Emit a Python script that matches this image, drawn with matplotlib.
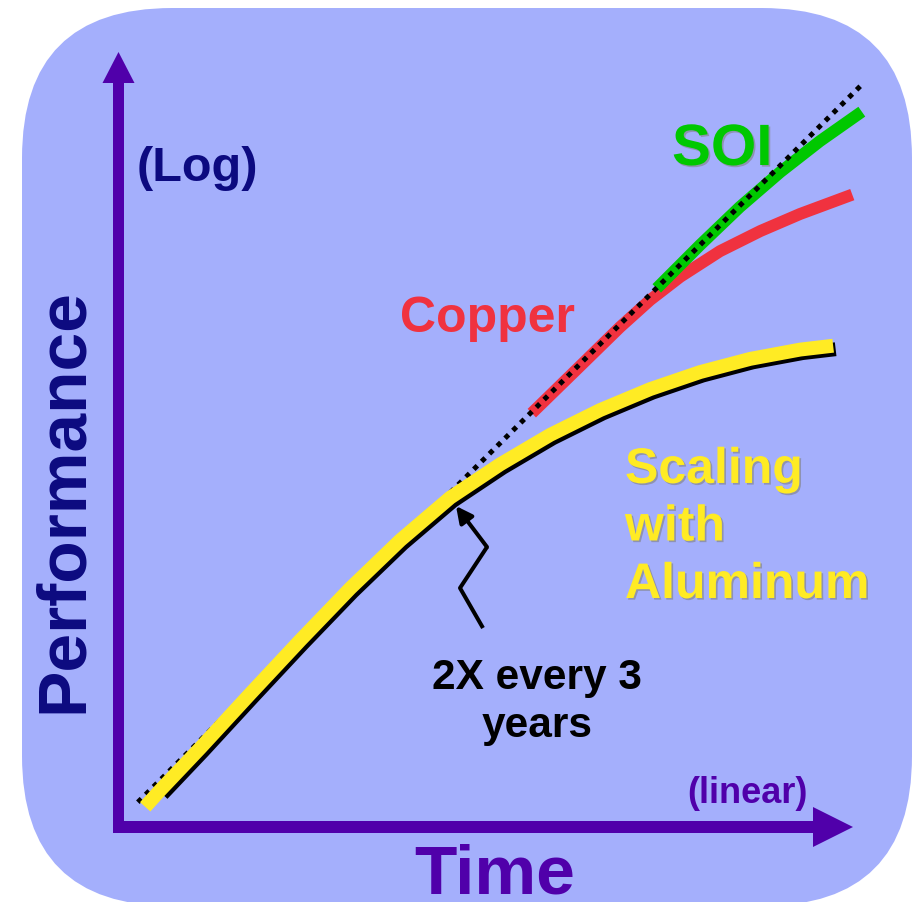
import matplotlib
matplotlib.use('Agg')
import matplotlib.pyplot as plt
import matplotlib.patheffects as pe
import matplotlib.transforms as mtransforms
from matplotlib.patches import FancyBboxPatch, FancyArrow

plt.rcParams['font.family'] = ['Liberation Sans', 'DejaVu Sans']
plt.rcParams['font.weight'] = 'bold'

# Time (linear) vs performance (log), both on a 0-100 scale
trend_time = [2.7, 101.0]
trend_perf = [3.2, 95.6]

aluminum_time = [3.7, 5.7, 11.2, 18.0, 24.8, 31.6, 38.4, 45.2, 52.0, 58.8,
                 65.6, 72.4, 79.2, 86.0, 92.8, 97.3]
aluminum_perf = [2.6, 4.7, 10.2, 17.2, 24.1, 30.8, 37.0, 42.5, 46.8, 50.6,
                 53.8, 56.5, 58.7, 60.4, 61.6, 62.1]

copper_time = [56.3, 62.9, 68.3, 72.4, 76.5, 81.9, 87.4, 92.8, 99.9]
copper_perf = [53.4, 59.5, 64.5, 68.0, 71.0, 74.3, 76.9, 79.1, 81.6]

soi_time = [73.3, 79.2, 84.6, 90.1, 95.5, 101.2]
soi_perf = [69.5, 75.1, 80.0, 84.5, 88.5, 92.3]

BG = '#A4AFFC'
PURPLE = '#5000AA'
NAVY = '#0C0A80'
YELLOW = '#FFEB24'
RED = '#F0323F'
GREEN = '#00C800'

fig = plt.figure(figsize=(9.15, 9.02), dpi=100)

# backdrop in pixel units
bg = fig.add_axes([0, 0, 1, 1])
bg.set_xlim(0, 915)
bg.set_ylim(902, 0)
bg.axis('off')
bg.add_patch(FancyBboxPatch((22, 8), 890, 898,
                            boxstyle='round,pad=0,rounding_size=150',
                            fc=BG, ec='none'))

# axis arrows
bg.add_patch(FancyArrow(118.5, 832, 0, -780, width=11, head_width=32,
                        head_length=31, length_includes_head=True,
                        color=PURPLE, lw=0))
bg.add_patch(FancyArrow(113, 827, 740, 0, width=12, head_width=40,
                        head_length=40, length_includes_head=True,
                        color=PURPLE, lw=0))

bg.text(137, 181, '(Log)', fontsize=35, color=NAVY, ha='left', va='baseline')
bg.text(82, 501, 'Performance', fontsize=50, color=NAVY, rotation=90,
        rotation_mode='anchor', ha='center', va='baseline')
bg.text(495, 893, 'Time', fontsize=50, color=PURPLE, ha='center', va='baseline')
bg.text(747, 803, '(linear)', fontsize=26, color=PURPLE, ha='center', va='baseline')

shadow = [pe.SimplePatchShadow(offset=(1.2, -1.2), shadow_rgbFace='#808080', alpha=0.6),
          pe.Normal()]
bg.text(400, 332, 'Copper', fontsize=36, color=RED, ha='left', va='baseline')
bg.text(672, 165, 'SOI', fontsize=42, color=GREEN, ha='left', va='baseline',
        path_effects=shadow)
# multi-line texts: baseline refers to the last line
bg.text(625, 598, 'Scaling\nwith\nAluminum', fontsize=36, color=YELLOW,
        ha='left', va='baseline', linespacing=1.32, path_effects=shadow)
bg.text(537, 737, '2X every 3\nyears', fontsize=30.5, color='black',
        ha='center', va='baseline', linespacing=1.25)

# zigzag pointer to the curve
bg.plot([483, 460, 487], [628, 588, 547], color='black', lw=2.9,
        solid_joinstyle='round', solid_capstyle='butt')
bg.annotate('', xy=(456, 506), xytext=(487, 547),
            arrowprops=dict(arrowstyle='-|>,head_length=0.7,head_width=0.35',
                            color='black', lw=2.9, mutation_scale=14,
                            shrinkA=0, shrinkB=0))

# curves
ax = fig.add_axes([118 / 915, 75 / 902, 735 / 915, 775 / 902])
ax.set_xlim(0, 100)
ax.set_ylim(0, 100)
ax.axis('off')

ax.plot(copper_time, copper_perf, color=RED, lw=8.6, solid_capstyle='butt',
        solid_joinstyle='round', clip_on=False, zorder=2)
ax.plot(soi_time, soi_perf, color=GREEN, lw=8.6, solid_capstyle='butt',
        solid_joinstyle='round', clip_on=False, zorder=3)
ax.plot(trend_time, trend_perf, color='black', lw=3.6, linestyle=(0, (1, 1.2)),
        dash_capstyle='butt', clip_on=False, zorder=4)

drop = mtransforms.offset_copy(ax.transData, fig=fig, x=2.5, y=-3.5, units='dots')
ax.plot(aluminum_time[1:], aluminum_perf[1:], color='black', lw=10,
        solid_capstyle='butt', solid_joinstyle='round', transform=drop,
        clip_on=False, zorder=5)
ax.plot(aluminum_time, aluminum_perf, color=YELLOW, lw=10,
        solid_capstyle='butt', solid_joinstyle='round', clip_on=False, zorder=6)

fig.savefig('out.png', dpi=100)
